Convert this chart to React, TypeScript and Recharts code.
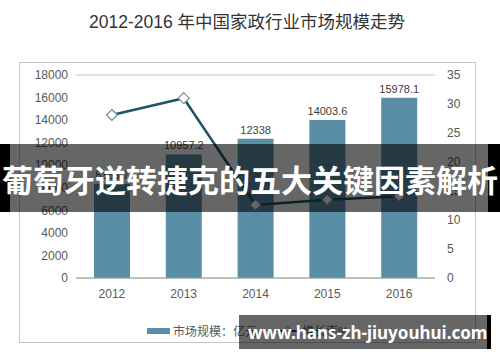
import React from 'react';
import { ComposedChart, Bar, Line, XAxis, YAxis, CartesianGrid, LabelList } from 'recharts';

const years = ['2012', '2013', '2014', '2015', '2016'];
const marketSize = [8366.7, 10957.2, 12338, 14003.6, 15978.1];
const growthRate = [28.1, 31.0, 12.6, 13.5, 14.1];
const leftTicks = [0, 2000, 4000, 6000, 8000, 10000, 12000, 14000, 16000, 18000];
const rightTicks = [0, 5, 10, 15, 20, 25, 30, 35];
const title = '2012-2016 年中国家政行业市场规模走势';
const seriesNames = ['市场规模：亿元', '增长率%'];
const bannerText = '葡萄牙逆转捷克的五大关键因素解析';
const watermark = 'www.hans-zh-jiuyouhui.com';

const data = years.map((y, i) => ({ year: y, size: marketSize[i], rate: growthRate[i] }));

const FONT = '"Liberation Sans", Arial, "Noto Sans CJK SC", sans-serif';
const BAR = '#5a8ea7';
const LINE = '#1c5468';
const TICK = { fontSize: 12, fill: '#595959', fontFamily: FONT };

const Diamond = (props: any) => {
  const { cx, cy } = props;
  if (cx == null || cy == null) return null;
  const r = 5.5;
  return (
    <path
      d={`M${cx},${cy - r}L${cx + r},${cy}L${cx},${cy + r}L${cx - r},${cy}Z`}
      fill="#ffffff"
      stroke="#6f8f9c"
      strokeWidth={1.2}
    />
  );
};

const LegendBlock = () => (
  <div
    style={{
      position: 'absolute', left: 147, top: 322, display: 'flex',
      alignItems: 'center', fontFamily: FONT, fontSize: 12, color: '#595959', whiteSpace: 'nowrap',
    }}
  >
    <div style={{ display: 'flex', alignItems: 'center', marginRight: 17 }}>
      <svg width={23} height={8} style={{ marginRight: 3 }}>
        <rect x={0} y={1} width={23} height={6} fill={BAR} />
      </svg>
      <span>{seriesNames[0]}</span>
    </div>
    <div style={{ display: 'flex', alignItems: 'center' }}>
      <svg width={27} height={12} style={{ marginRight: 1 }}>
        <line x1={0} y1={6} x2={27} y2={6} stroke={LINE} strokeWidth={2} />
        <path d="M13.5,1.5L18,6L13.5,10.5L9,6Z" fill="#fff" stroke="#6f8f9c" strokeWidth={1} />
      </svg>
      <span>{seriesNames[1]}</span>
    </div>
  </div>
);

export default function App() {
  return (
    <div style={{ position: 'absolute', left: 0, top: 0, width: 500, height: 362, background: '#fff', overflow: 'hidden' }}>
      <div
        style={{
          position: 'absolute', left: 0, top: 12, width: 494, textAlign: 'center',
          fontFamily: FONT, fontSize: 17.5, lineHeight: '20px', color: '#333',
        }}
      >
        {title}
      </div>
      <div style={{ position: 'absolute', left: 19, top: 62, width: 455, height: 279, border: '1px solid #c6c6c6' }} />
      <div style={{ position: 'absolute', left: 0, top: 0 }}>
        <ComposedChart width={500} height={362} data={data} margin={{ top: 75, right: 25, left: 20, bottom: 54 }}>
          <CartesianGrid vertical={false} stroke="#c4c4c4" strokeWidth={1} />
          <XAxis
            dataKey="year"
            tick={TICK}
            tickLine={false}
            axisLine={{ stroke: '#9a9a9a' }}
            tickMargin={5}
            height={30}
          />
          <YAxis
            yAxisId="left"
            domain={[0, 18000]}
            ticks={leftTicks}
            tick={TICK}
            tickLine={false}
            axisLine={false}
            width={56}
            interval={0}
          />
          <YAxis
            yAxisId="right"
            orientation="right"
            domain={[0, 35]}
            ticks={rightTicks}
            tick={TICK}
            tickLine={false}
            axisLine={false}
            width={40}
            tickMargin={6}
            interval={0}
          />
          <Bar yAxisId="left" dataKey="size" fill={BAR} barSize={36} isAnimationActive={false}>
            <LabelList dataKey="size" position="top" offset={5} style={{ fontSize: 11, fill: '#404040', fontFamily: FONT }} />
          </Bar>
          <Line
            yAxisId="right"
            dataKey="rate"
            stroke={LINE}
            strokeWidth={2.5}
            dot={<Diamond />}
            activeDot={false}
            isAnimationActive={false}
          />
        </ComposedChart>
      </div>
      <LegendBlock />
      {/* banner overlay */}
      <div style={{ position: 'absolute', left: 0, top: 144, width: 500, height: 68, background: 'rgba(0,0,0,0.6)' }} />
      <div style={{ position: 'absolute', left: 0, top: 144, width: 10, height: 68, background: '#000' }} />
      <div style={{ position: 'absolute', left: 488, top: 144, width: 12, height: 68, background: '#000' }} />
      <div
        style={{
          position: 'absolute', left: 0, top: 144, width: 500, height: 68, display: 'flex',
          alignItems: 'center', justifyContent: 'center', color: '#fff', fontWeight: 700,
          fontSize: 31, fontFamily: '"Noto Sans CJK SC", sans-serif', whiteSpace: 'nowrap',
        }}
      >
        {bannerText}
      </div>
      {/* watermark */}
      <div
        style={{
          position: 'absolute', left: 239, top: 315, width: 248, height: 34, background: 'rgba(0,0,0,0.6)',
          display: 'flex', alignItems: 'center', color: '#fff', fontWeight: 700, fontSize: 17,
          fontFamily: '"Noto Sans", "Open Sans", sans-serif', paddingLeft: 9, boxSizing: 'border-box', whiteSpace: 'nowrap',
        }}
      >
        {watermark}
      </div>
      <div style={{ position: 'absolute', left: 487, top: 315, width: 4, height: 34, background: '#000' }} />
    </div>
  );
}
